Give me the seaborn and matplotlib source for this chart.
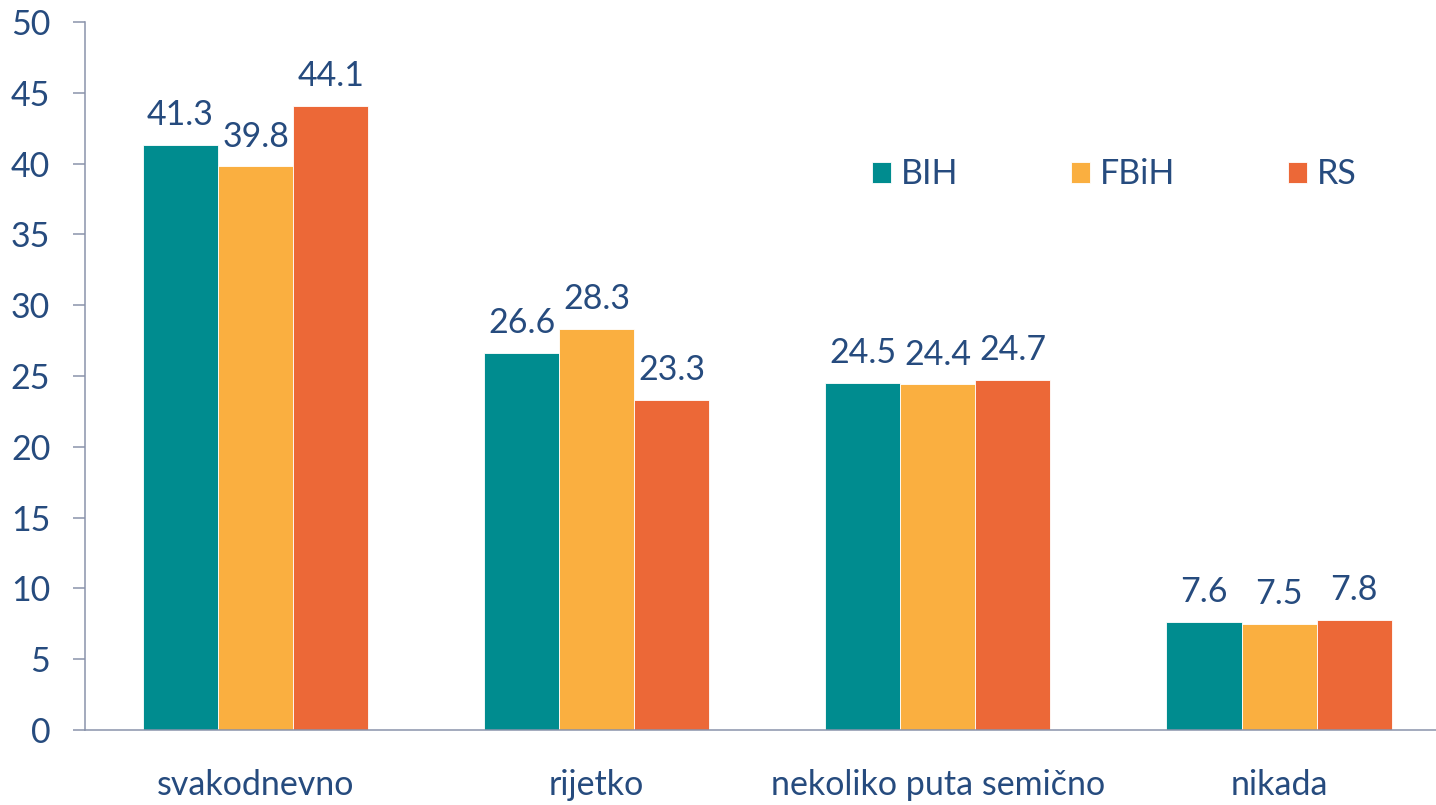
import matplotlib
matplotlib.use("Agg")
import matplotlib.pyplot as plt
import seaborn as sns
import pandas as pd
import numpy as np

# data
categories = ["svakodnevno", "rijetko", "nekoliko puta semično", "nikada"]
regions = ["BIH", "FBiH", "RS"]
bih = [41.3, 26.6, 24.5, 7.6]
fbih = [39.8, 28.3, 24.4, 7.5]
rs = [44.1, 23.3, 24.7, 7.8]
colors = ["#008C8F", "#FAAF40", "#EC6837"]

text_color = "#264B7E"
axis_color = "#8A93AB"
fs = 24.5

df = pd.DataFrame({
    "category": categories * 3,
    "region": [r for r in regions for _ in categories],
    "value": bih + fbih + rs,
})

sns.set_style("white")
plt.rcParams["font.family"] = ["Lato", "DejaVu Sans"]

fig = plt.figure(figsize=(14.36, 8.05), dpi=100)
ax = fig.add_axes([85 / 1436, 75 / 805, 1 - 85 / 1436, 708 / 805])

sns.barplot(data=df, x="category", y="value", hue="region", order=categories,
            hue_order=regions, palette=colors, width=0.66, ax=ax,
            edgecolor="white", linewidth=0.6, saturation=1)

for cont in ax.containers:
    ax.bar_label(cont, fmt="%.1f", padding=10, fontsize=fs, color=text_color)

ax.set_ylim(0, 50)
ax.set_xlim(-0.5, 3.46)
ax.set_yticks(np.arange(0, 51, 5))
ax.set_xlabel("")
ax.set_ylabel("")

# boundary ticks between categories
ax.set_xticks(np.arange(-0.5, 3.0, 1.0), minor=True)
ax.tick_params(axis="x", which="major", length=0, pad=28, labelsize=fs, labelcolor=text_color)
ax.tick_params(axis="x", which="minor", length=9, width=1.1, color=axis_color, direction="out")
ax.tick_params(axis="y", length=9, width=1.1, color=axis_color, pad=16, labelsize=fs,
               labelcolor=text_color, left=True, direction="out")

sns.despine(ax=ax, top=True, right=True)
for s in ["left", "bottom"]:
    ax.spines[s].set_color(axis_color)
    ax.spines[s].set_linewidth(1.1)

handles, labels = ax.get_legend_handles_labels()
ax.legend(handles, labels, loc="center", bbox_to_anchor=(0.762, 0.785), ncol=3,
          frameon=False, fontsize=fs, labelcolor=text_color, handlelength=0.56,
          handleheight=0.56, handletextpad=0.3, columnspacing=3.3)

fig.savefig("out.png", dpi=100)
